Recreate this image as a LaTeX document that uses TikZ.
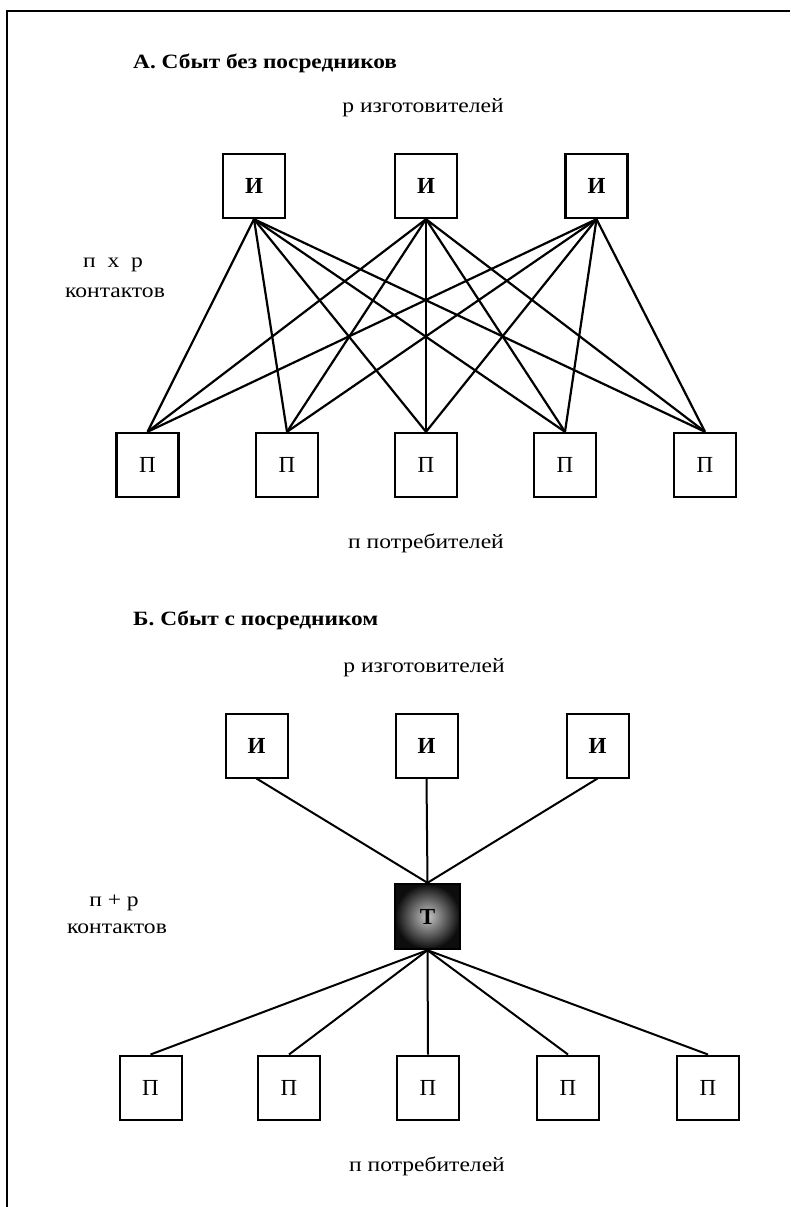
\documentclass[tikz,border=0pt]{standalone}
\usepackage{fontspec}
\setmainfont{Liberation Serif}
\newfontfamily\wideserif[FakeStretch=1.15]{Liberation Serif}
\begin{document}
\begin{tikzpicture}[x=1pt,y=-1pt,
  box/.style={draw, line width=2.4pt, minimum width=62pt, minimum height=64pt, inner sep=0pt, font=\fontsize{23}{23}\selectfont},
  ibox/.style={box, font=\bfseries\fontsize{23}{23}\selectfont},
  link/.style={line width=2.2pt},
  lbl/.style={font=\wideserif\fontsize{20.5}{20.5}\selectfont, inner sep=0pt},
  ttl/.style={font=\wideserif\bfseries\fontsize{20.3}{20.3}\selectfont, inner sep=0pt, anchor=west}]
\useasboundingbox (0,0) rectangle (790,1207);
% frame
\coordinate (fbl) at (7,1207);
\coordinate (ftl) at (7,11);
\coordinate (ftr) at (790,11);
\draw[line width=2.4pt] (fbl) -- (ftl) -- (ftr);

% ---------- A ----------
\node[ttl] (ta) at (133,63) {А. Сбыт без посредников};
\node[lbl] (pa) at (423,108) {р изготовителей};
\node[lbl] (nxp) at (113,265) {п\ \ х\ \ р};
\node[lbl] (ka) at (115,293) {контактов};
\node[lbl] (na) at (426,543) {п потребителей};

\node[ibox] (a1) at (254,186) {И};
\node[ibox] (a2) at (426,186) {И};
\node[ibox] (a3) at (596.5,186) {И};

\node[box] (c1) at (147.5,465) {П};
\node[box] (c2) at (287,465) {П};
\node[box] (c3) at (426,465) {П};
\node[box] (c4) at (565,465) {П};
\node[box] (c5) at (705,465) {П};

\foreach \i in {1,2,3}
  \foreach \j in {1,...,5}
    \draw[link] (a\i.south) -- (c\j.north);

% ---------- B ----------
\node[ttl] (tb) at (133,620) {Б. Сбыт с посредником};
\node[lbl] (pb) at (424,668) {р изготовителей};
\node[lbl] (npp) at (114,903) {п + р};
\node[lbl] (kb) at (117,929) {контактов};
\node[lbl] (nb) at (427,1166) {п потребителей};

\node[ibox, line width=2pt] (b1) at (256.5,745.5) {И};
\node[ibox, line width=2pt] (b2) at (426.5,745.5) {И};
\node[ibox, line width=2pt] (b3) at (597.5,745.5) {И};

\node[box, line width=2.4pt, minimum width=65pt, minimum height=65pt,
      inner color=gray!45, outer color=black!95] (t) at (427.5,916.5) {\bfseries Т};

\node[box, line width=2pt] (d1) at (150.5,1087.5) {П};
\node[box, line width=2pt] (d2) at (289,1087.5) {П};
\node[box, line width=2pt] (d3) at (428,1087.5) {П};
\node[box, line width=2pt] (d4) at (568,1087.5) {П};
\node[box, line width=2pt] (d5) at (708,1087.5) {П};

\foreach \i in {1,2,3}
  \draw[link, line width=2pt] (b\i.south) -- (t.north);
\foreach \j in {1,...,5}
  \draw[link, line width=2pt] (t.south) -- (d\j.north);
\end{tikzpicture}
\end{document}
